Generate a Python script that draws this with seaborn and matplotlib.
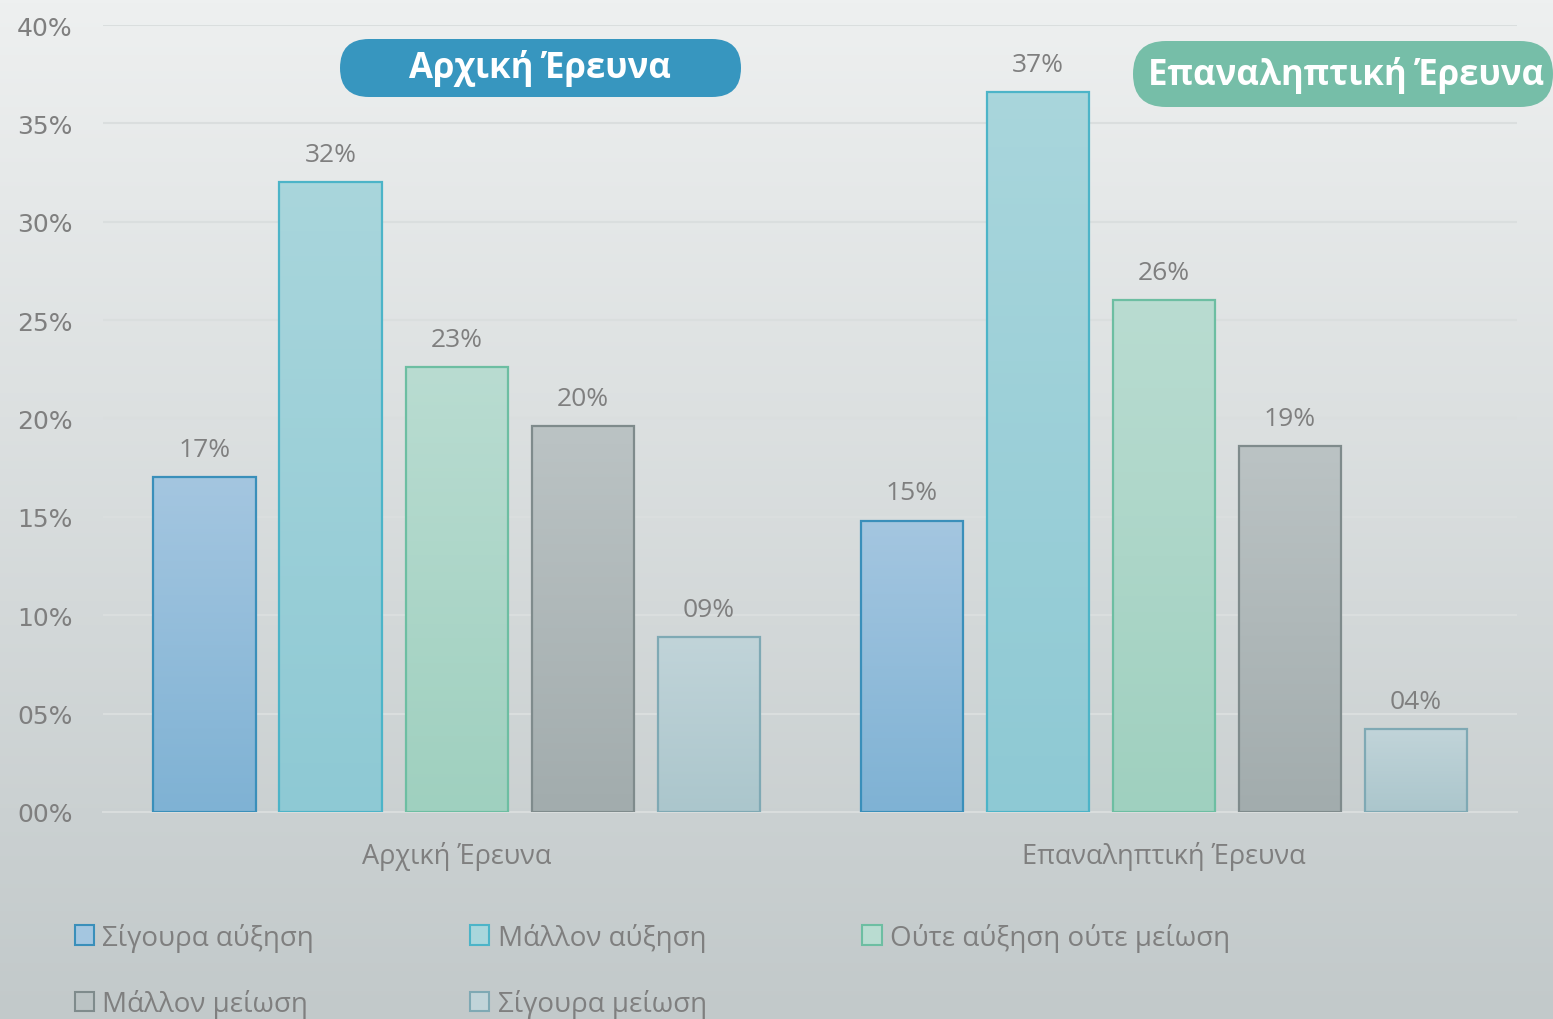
import numpy as np
import pandas as pd
import matplotlib
matplotlib.use('Agg')
import matplotlib.pyplot as plt
import seaborn as sns
from matplotlib.patches import Patch, FancyBboxPatch
from matplotlib.colors import LinearSegmentedColormap

surveys = ['Αρχική Έρευνα', 'Επαναληπτική Έρευνα']
answers = ['Σίγουρα αύξηση', 'Μάλλον αύξηση', 'Ούτε αύξηση ούτε μείωση',
           'Μάλλον μείωση', 'Σίγουρα μείωση']
initial = [17.0, 32.0, 22.6, 19.6, 8.9]
repeat = [14.8, 36.6, 26.0, 18.6, 4.2]
yticks = [0, 5, 10, 15, 20, 25, 30, 35, 40]

# gradient colours per answer (top, bottom, edge)
tops = ['#a4c6e0', '#a9d6dc', '#b9dcd1', '#bbc3c4', '#c1d4d9']
bottoms = ['#7fb2d4', '#8ec9d4', '#9fd0bf', '#a2acad', '#abc6cc']
edges = ['#3a8fba', '#4cb4c8', '#6dbea2', '#7f8b8c', '#7fa9b4']

df = pd.DataFrame({
    'survey': np.repeat(surveys, len(answers)),
    'answer': answers * len(surveys),
    'value': initial + repeat,
})

sns.set_theme(style='white')
plt.rcParams['font.family'] = ['Open Sans', 'DejaVu Sans']
gray = '#7f7f7f'

fig = plt.figure(figsize=(15.53, 10.2), dpi=100)

# background gradient
bg = fig.add_axes([0, 0, 1, 1], zorder=-10)
bg_cmap = LinearSegmentedColormap.from_list('bg', ['#c2c9ca', '#eef0f0'])
bg.imshow(np.linspace(0, 1, 256)[:, None], aspect='auto', cmap=bg_cmap,
          origin='lower', extent=[0, 1, 0, 1])
bg.set_axis_off()

ax = fig.add_axes([0.0663, 0.203, 0.9107, 0.7715])
ax.patch.set_alpha(0)

sns.barplot(data=df, x='survey', y='value', hue='answer', hue_order=answers,
            order=surveys, width=0.891, gap=0.19, ax=ax, legend=False,
            palette=tops, saturation=1)

for i, cont in enumerate(ax.containers):
    cmap = LinearSegmentedColormap.from_list('b%d' % i, [bottoms[i], tops[i]])
    for bar in cont:
        x, w, h = bar.get_x(), bar.get_width(), bar.get_height()
        ax.imshow(np.linspace(0, 1, 128)[:, None], aspect='auto', cmap=cmap,
                  origin='lower', extent=[x, x + w, 0, h], zorder=2)
        bar.set_facecolor('none')
        bar.set_edgecolor(edges[i])
        bar.set_linewidth(1.6)
        bar.set_zorder(3)
        ax.annotate('%02.0f%%' % h, (x + w / 2, h), xytext=(0, 11),
                    textcoords='offset points', ha='center', va='bottom',
                    fontsize=19, color=gray)

ax.set_xlim(-0.5, 1.5)
ax.set_ylim(0, 40)
ax.set_yticks(yticks)
ax.set_yticklabels(['%02d%%' % t for t in yticks], family='DejaVu Sans',
                   fontsize=18, color=gray)
ax.tick_params(axis='y', length=0, pad=22)
ax.tick_params(axis='x', length=0, pad=21, labelsize=19.5, labelcolor=gray)
ax.set_xlabel('')
ax.set_ylabel('')
ax.grid(axis='y', color='#dadede', linewidth=1.5, zorder=0)
ax.set_axisbelow(True)
for s in ['top', 'right', 'left']:
    ax.spines[s].set_visible(False)
ax.spines['bottom'].set_color('#d9dddd')
ax.spines['bottom'].set_linewidth(1.5)

# legend, ordered so it reads row by row
handles = [Patch(facecolor=tops[i], edgecolor=edges[i], linewidth=1.5, label=answers[i])
           for i in range(len(answers))]
order = [0, 3, 1, 4, 2]
fig.legend([handles[i] for i in order], [answers[i] for i in order], ncol=3,
           loc='upper left', bbox_to_anchor=(0.032, 0.119), frameon=False,
           fontsize=20, labelcolor=gray, handlelength=0.7, handleheight=0.7,
           handletextpad=0.3, columnspacing=5.6, labelspacing=1.35)

# title badges
tr = fig.dpi_scale_trans
fig.patches.append(FancyBboxPatch((3.40, 9.22), 4.01, 0.58,
                                  boxstyle='round,pad=0,rounding_size=0.29',
                                  transform=tr, facecolor='#3796bf',
                                  edgecolor='none', figure=fig))
fig.text(5.40, 9.51, surveys[0], transform=tr, ha='center', va='center',
         fontsize=25, fontweight='bold', color='white')
fig.patches.append(FancyBboxPatch((11.33, 9.12), 4.20, 0.66,
                                  boxstyle='round,pad=0,rounding_size=0.33',
                                  transform=tr, facecolor='#76bea8',
                                  edgecolor='none', figure=fig))
fig.text(13.46, 9.44, surveys[1], transform=tr, ha='center', va='center',
         fontsize=25, fontweight='bold', color='white')

fig.savefig('out.png', dpi=100)
